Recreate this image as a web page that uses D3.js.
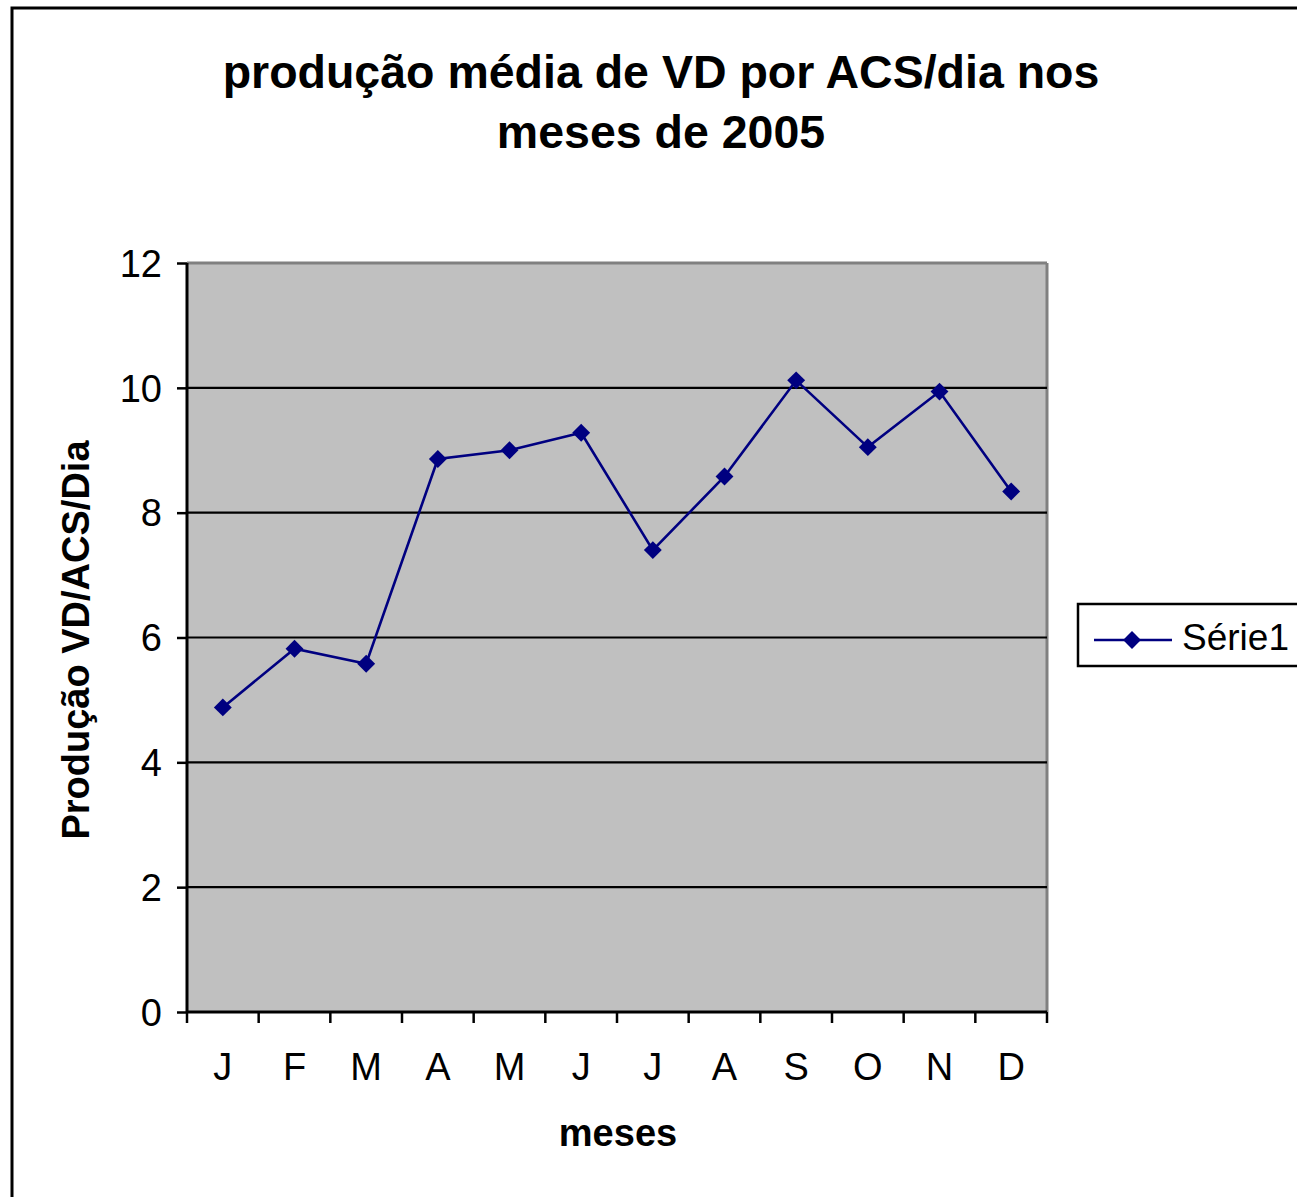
<!DOCTYPE html>
<html><head><meta charset="utf-8">
<script src="https://cdn.jsdelivr.net/npm/d3@7"></script>
<style>body{margin:0;background:#fff}svg{display:block}</style>
</head><body>
<script>
const months = ["J","F","M","A","M","J","J","A","S","O","N","D"];
const values = [4.88, 5.82, 5.58, 8.86, 9.0, 9.28, 7.4, 8.58, 10.12, 9.05, 9.94, 8.34];
const yTicks = [0, 2, 4, 6, 8, 10, 12];
const titleLines = ["produção média de VD por ACS/dia nos", "meses de 2005"];
const seriesName = "Série1";

const W = 1297, H = 1197;
const svg = d3.select("body").append("svg").attr("width", W).attr("height", H);
const font = "Liberation Sans, Arial, sans-serif";

// outer frame
svg.append("rect").attr("x", 12).attr("y", 8).attr("width", W + 20).attr("height", H + 20)
  .attr("fill", "#fff").attr("stroke", "#000").attr("stroke-width", 3);

const L = 187, R = 1047, T = 263, B = 1012;
const x = d3.scaleBand().domain(d3.range(months.length)).range([L, R]).paddingInner(0).paddingOuter(0);
const y = d3.scaleLinear().domain([0, 12]).range([B, T]);

// plot area
svg.append("rect").attr("x", L).attr("y", T).attr("width", R - L).attr("height", B - T)
  .attr("fill", "#c0c0c0");
svg.append("line").attr("x1", L).attr("x2", R).attr("y1", T).attr("y2", T).attr("stroke", "#808080").attr("stroke-width", 3);
svg.append("line").attr("x1", R).attr("x2", R).attr("y1", T).attr("y2", B).attr("stroke", "#808080").attr("stroke-width", 3);

// gridlines
svg.append("g").selectAll("line").data(yTicks.filter(d => d > 0 && d < 12)).join("line")
  .attr("x1", L).attr("x2", R).attr("y1", d => y(d)).attr("y2", d => y(d))
  .attr("stroke", "#000").attr("stroke-width", 2.2);

// y axis
const yAxis = svg.append("g").attr("transform", `translate(${L},0)`)
  .call(d3.axisLeft(y).tickValues(yTicks).tickSize(10).tickPadding(15).tickFormat(d3.format("d")));
yAxis.select(".domain").attr("stroke", "#000").attr("stroke-width", 3).attr("d", `M0,${T}V${B}`);
yAxis.selectAll(".tick line").attr("stroke", "#000").attr("stroke-width", 2.5);
yAxis.selectAll("text").attr("font-family", font).attr("font-size", 38).attr("fill", "#000").attr("dy", "0.35em");

// x axis
const xAxis = svg.append("g").attr("transform", `translate(0,${B})`)
  .call(d3.axisBottom(x).tickSize(0).tickPadding(55).tickFormat(i => months[i]));
xAxis.select(".domain").attr("stroke", "#000").attr("stroke-width", 3).attr("d", `M${L},0H${R}`);
xAxis.selectAll("text").attr("font-family", font).attr("font-size", 38).attr("fill", "#000").attr("dy", "0.35em");
// tick marks at category boundaries
svg.append("g").selectAll("line").data(d3.range(months.length + 1)).join("line")
  .attr("x1", i => i < months.length ? x(i) : R).attr("x2", i => i < months.length ? x(i) : R)
  .attr("y1", B).attr("y2", B + 11).attr("stroke", "#000").attr("stroke-width", 2.5);

// line
const cx = i => x(i) + x.bandwidth() / 2;
svg.append("path").datum(values)
  .attr("d", d3.line().x((d, i) => cx(i)).y(d => y(d)))
  .attr("fill", "none").attr("stroke", "#000080").attr("stroke-width", 2.6);
const diamond = d3.symbol().type(d3.symbolSquare).size(160);
svg.append("g").selectAll("path").data(values).join("path")
  .attr("d", diamond())
  .attr("transform", (d, i) => `translate(${cx(i)},${y(d)}) rotate(45)`)
  .attr("fill", "#000080");

// title
svg.append("text").attr("x", 661).attr("y", 0).attr("text-anchor", "middle")
  .attr("font-family", font).attr("font-weight", "bold").attr("font-size", 46.5).attr("fill", "#000")
  .selectAll("tspan").data(titleLines).join("tspan")
  .attr("x", 661).attr("y", (d, i) => 88 + i * 60).text(d => d);

// axis titles
svg.append("text").attr("transform", "translate(89,640) rotate(-90)").attr("text-anchor", "middle")
  .attr("font-family", font).attr("font-weight", "bold").attr("font-size", 38).attr("fill", "#000")
  .text("Produção VD/ACS/Dia");
svg.append("text").attr("x", 618).attr("y", 1146).attr("text-anchor", "middle")
  .attr("font-family", font).attr("font-weight", "bold").attr("font-size", 38).attr("fill", "#000")
  .text("meses");

// legend
const lg = svg.append("g");
lg.append("rect").attr("x", 1078).attr("y", 604).attr("width", 240).attr("height", 62)
  .attr("fill", "#fff").attr("stroke", "#000").attr("stroke-width", 2.5);
lg.append("line").attr("x1", 1094).attr("x2", 1172).attr("y1", 640).attr("y2", 640)
  .attr("stroke", "#000080").attr("stroke-width", 2.6);
lg.append("path").attr("d", diamond()).attr("transform", "translate(1132,640) rotate(45)").attr("fill", "#000080");
lg.append("text").attr("x", 1182).attr("y", 650).attr("font-family", font).attr("font-size", 37)
  .attr("fill", "#000").text(seriesName);
</script>
</body></html>
